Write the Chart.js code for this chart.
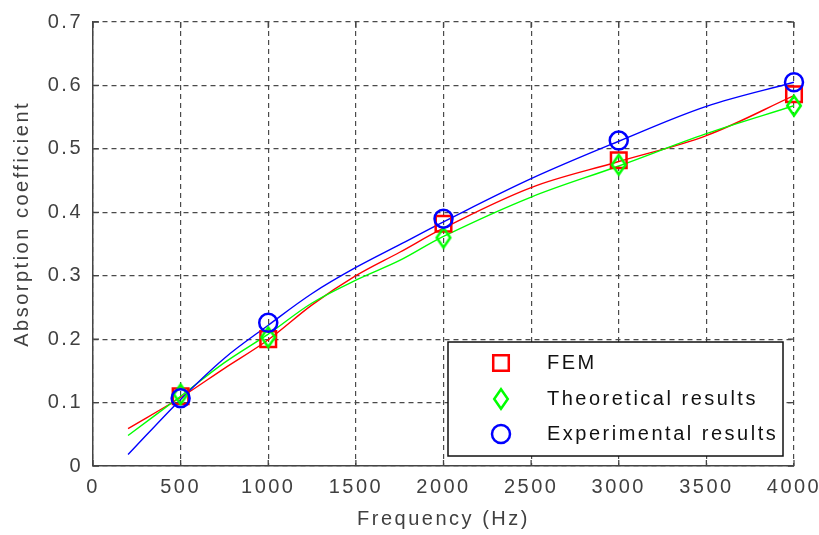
<!DOCTYPE html>
<html>
<head>
<meta charset="utf-8">
<title>Absorption coefficient</title>
<script src="https://cdn.jsdelivr.net/npm/chart.js@4.4.1/dist/chart.umd.min.js"></script>
<style>
  html, body { margin: 0; padding: 0; background: #fff; }
  canvas { display: block; }
</style>
</head>
<body>
<canvas id="absorptionChart" width="819" height="535"></canvas>
<script>
// ------------------------------------------------------------
// Data
// ------------------------------------------------------------
const freqs = [500, 1000, 2000, 3000, 4000];
const femValues    = [0.110, 0.200, 0.382, 0.482, 0.586];
const theoryValues = [0.113, 0.203, 0.360, 0.475, 0.568];
const expValues    = [0.107, 0.226, 0.390, 0.513, 0.605];

// fitted curves (200 Hz .. 4000 Hz)
const curveFreqs  = [200, 500, 750, 1000, 1250, 1500, 1750, 2000, 2500, 3000, 3500, 4000];
const femCurve    = [0.059, 0.108, 0.154, 0.199, 0.254, 0.300, 0.337, 0.375, 0.439, 0.480, 0.521, 0.584];
const theoryCurve = [0.048, 0.110, 0.163, 0.208, 0.257, 0.293, 0.324, 0.362, 0.424, 0.473, 0.524, 0.568];
const expCurve    = [0.018, 0.105, 0.170, 0.222, 0.272, 0.313, 0.349, 0.385, 0.453, 0.512, 0.567, 0.605];

const xTickLabels = ["0", "500", "1000", "1500", "2000", "2500", "3000", "3500", "4000"];
const yTickLabels = ["0", "0.1", "0.2", "0.3", "0.4", "0.5", "0.6", "0.7"];
const legendLabels = ["FEM", "Theoretical results", "Experimental results"];

const RED = "#ff0000", GREEN = "#00ff00", BLUE = "#0000ff";
const FONT = '"Liberation Sans", Arial, sans-serif';
const SPACING = "2.5px";

// diamond marker (matlab 'd'), a bit taller than wide
function makeDiamond(color) {
    const c = document.createElement("canvas");
    c.width = 20;
    c.height = 26;
    const g = c.getContext("2d");
    g.strokeStyle = color;
    g.lineWidth = 2.5;
    g.beginPath();
    g.moveTo(10, 3.2);
    g.lineTo(16.8, 13);
    g.lineTo(10, 22.8);
    g.lineTo(3.2, 13);
    g.closePath();
    g.stroke();
    return c;
}
const diamond = makeDiamond(GREEN);

const toXY = (xs, ys) => xs.map((x, i) => ({ x: x, y: ys[i] }));

function markerSet(label, values, color, style, radius) {
    return {
        label: label,
        data: toXY(freqs, values),
        showLine: false,
        borderColor: color,
        backgroundColor: "rgba(0,0,0,0)",
        pointStyle: style,
        pointRadius: radius,
        pointBorderWidth: 2.5,
        pointBorderColor: color,
        pointBackgroundColor: "rgba(0,0,0,0)",
        clip: false
    };
}

function curveSet(values, color) {
    return {
        label: "_fit",
        data: toXY(curveFreqs, values),
        borderColor: color,
        borderWidth: 1.4,
        pointRadius: 0,
        tension: 0.35,
        fill: false
    };
}

// ------------------------------------------------------------
// Plugin: letter spacing, inward ticks, boxed legend
// ------------------------------------------------------------
const matlabLook = {
    id: "matlabLook",
    beforeUpdate(chart) { chart.ctx.letterSpacing = SPACING; },
    beforeDraw(chart) { chart.ctx.letterSpacing = SPACING; },

    // small ticks pointing into the axes, on all four sides
    beforeDatasetsDraw(chart) {
        const ctx = chart.ctx;
        const area = chart.chartArea;
        const xs = chart.scales.x, ys = chart.scales.y;
        const len = 6;
        ctx.save();
        ctx.strokeStyle = "#444";
        ctx.lineWidth = 1.3;
        ctx.beginPath();
        xs.ticks.forEach(t => {
            const px = xs.getPixelForValue(t.value);
            ctx.moveTo(px, area.bottom); ctx.lineTo(px, area.bottom - len);
            ctx.moveTo(px, area.top); ctx.lineTo(px, area.top + len);
        });
        ys.ticks.forEach(t => {
            const py = ys.getPixelForValue(t.value);
            ctx.moveTo(area.left, py); ctx.lineTo(area.left + len, py);
            ctx.moveTo(area.right, py); ctx.lineTo(area.right - len, py);
        });
        ctx.stroke();
        ctx.restore();
    },

    afterDraw(chart) {
        const ctx = chart.ctx;
        const area = chart.chartArea;
        const left = area.right - 346, top = area.bottom - 124;
        const w = 335, h = 114;

        ctx.save();
        ctx.fillStyle = "#fff";
        ctx.fillRect(left, top, w, h);
        ctx.strokeStyle = "#111";
        ctx.lineWidth = 1.5;
        ctx.strokeRect(left, top, w, h);

        const markers = chart.data.datasets.slice(0, 3).reverse(); // FEM, theory, exp
        const rows = [21, 57, 92];
        markers.forEach((ds, i) => {
            const y = top + rows[i];
            ctx.strokeStyle = ds.pointBorderColor;
            ctx.fillStyle = "rgba(0,0,0,0)";
            ctx.lineWidth = 2.5;
            Chart.helpers.drawPoint(ctx, {
                pointStyle: ds.pointStyle,
                radius: ds.pointRadius,
                rotation: 0,
                borderWidth: 2.5
            }, left + 53, y);

            ctx.fillStyle = "#111";
            ctx.font = "20px " + FONT;
            ctx.letterSpacing = SPACING;
            ctx.textBaseline = "middle";
            ctx.textAlign = "left";
            ctx.fillText(legendLabels[i], left + 99, y);
        });
        ctx.restore();
    }
};

Chart.defaults.font.family = FONT;
Chart.defaults.font.size = 20;
Chart.defaults.color = "#404040";

new Chart(document.getElementById("absorptionChart"), {
    type: "line",
    data: {
        datasets: [
            markerSet(legendLabels[2], expValues, BLUE, "circle", 9),
            markerSet(legendLabels[1], theoryValues, GREEN, diamond, 12),
            markerSet(legendLabels[0], femValues, RED, "rect", 11),
            curveSet(expCurve, BLUE),
            curveSet(theoryCurve, GREEN),
            curveSet(femCurve, RED)
        ]
    },
    options: {
        responsive: false,
        animation: false,
        events: [],
        layout: { padding: { left: 0, top: 21, right: 25, bottom: 0 } },
        plugins: {
            legend: { display: false },
            tooltip: { enabled: false }
        },
        scales: {
            x: {
                type: "linear",
                min: 0,
                max: 4000,
                afterFit: (scale) => {
                    scale.height = 69;
                    scale.paddingRight = 0;
                    scale.paddingLeft = 0;
                },
                ticks: {
                    stepSize: 500,
                    autoSkip: false,
                    maxRotation: 0,
                    padding: 9,
                    callback: (v, i) => xTickLabels[i]
                },
                grid: {
                    color: "#4a4a4a",
                    lineWidth: 1.2,
                    drawTicks: false
                },
                border: { display: true, color: "#444", width: 1.5, dash: [5, 4] },
                title: {
                    display: true,
                    text: "Frequency (Hz)",
                    padding: { top: 0, bottom: 4 },
                    font: { size: 20 }
                }
            },
            y: {
                min: 0,
                max: 0.7,
                afterFit: (scale) => { scale.width = 93; },
                ticks: {
                    stepSize: 0.1,
                    padding: 10,
                    callback: (v, i) => yTickLabels[i]
                },
                grid: {
                    color: "#4a4a4a",
                    lineWidth: 1.2,
                    drawTicks: false
                },
                border: { display: true, color: "#444", width: 1.5, dash: [5, 4] },
                title: {
                    display: true,
                    text: "     Absorption coefficient",
                    padding: { top: 10, bottom: 0 },
                    font: { size: 20 }
                }
            }
        }
    },
    plugins: [matlabLook]
});
</script>
</body>
</html>
